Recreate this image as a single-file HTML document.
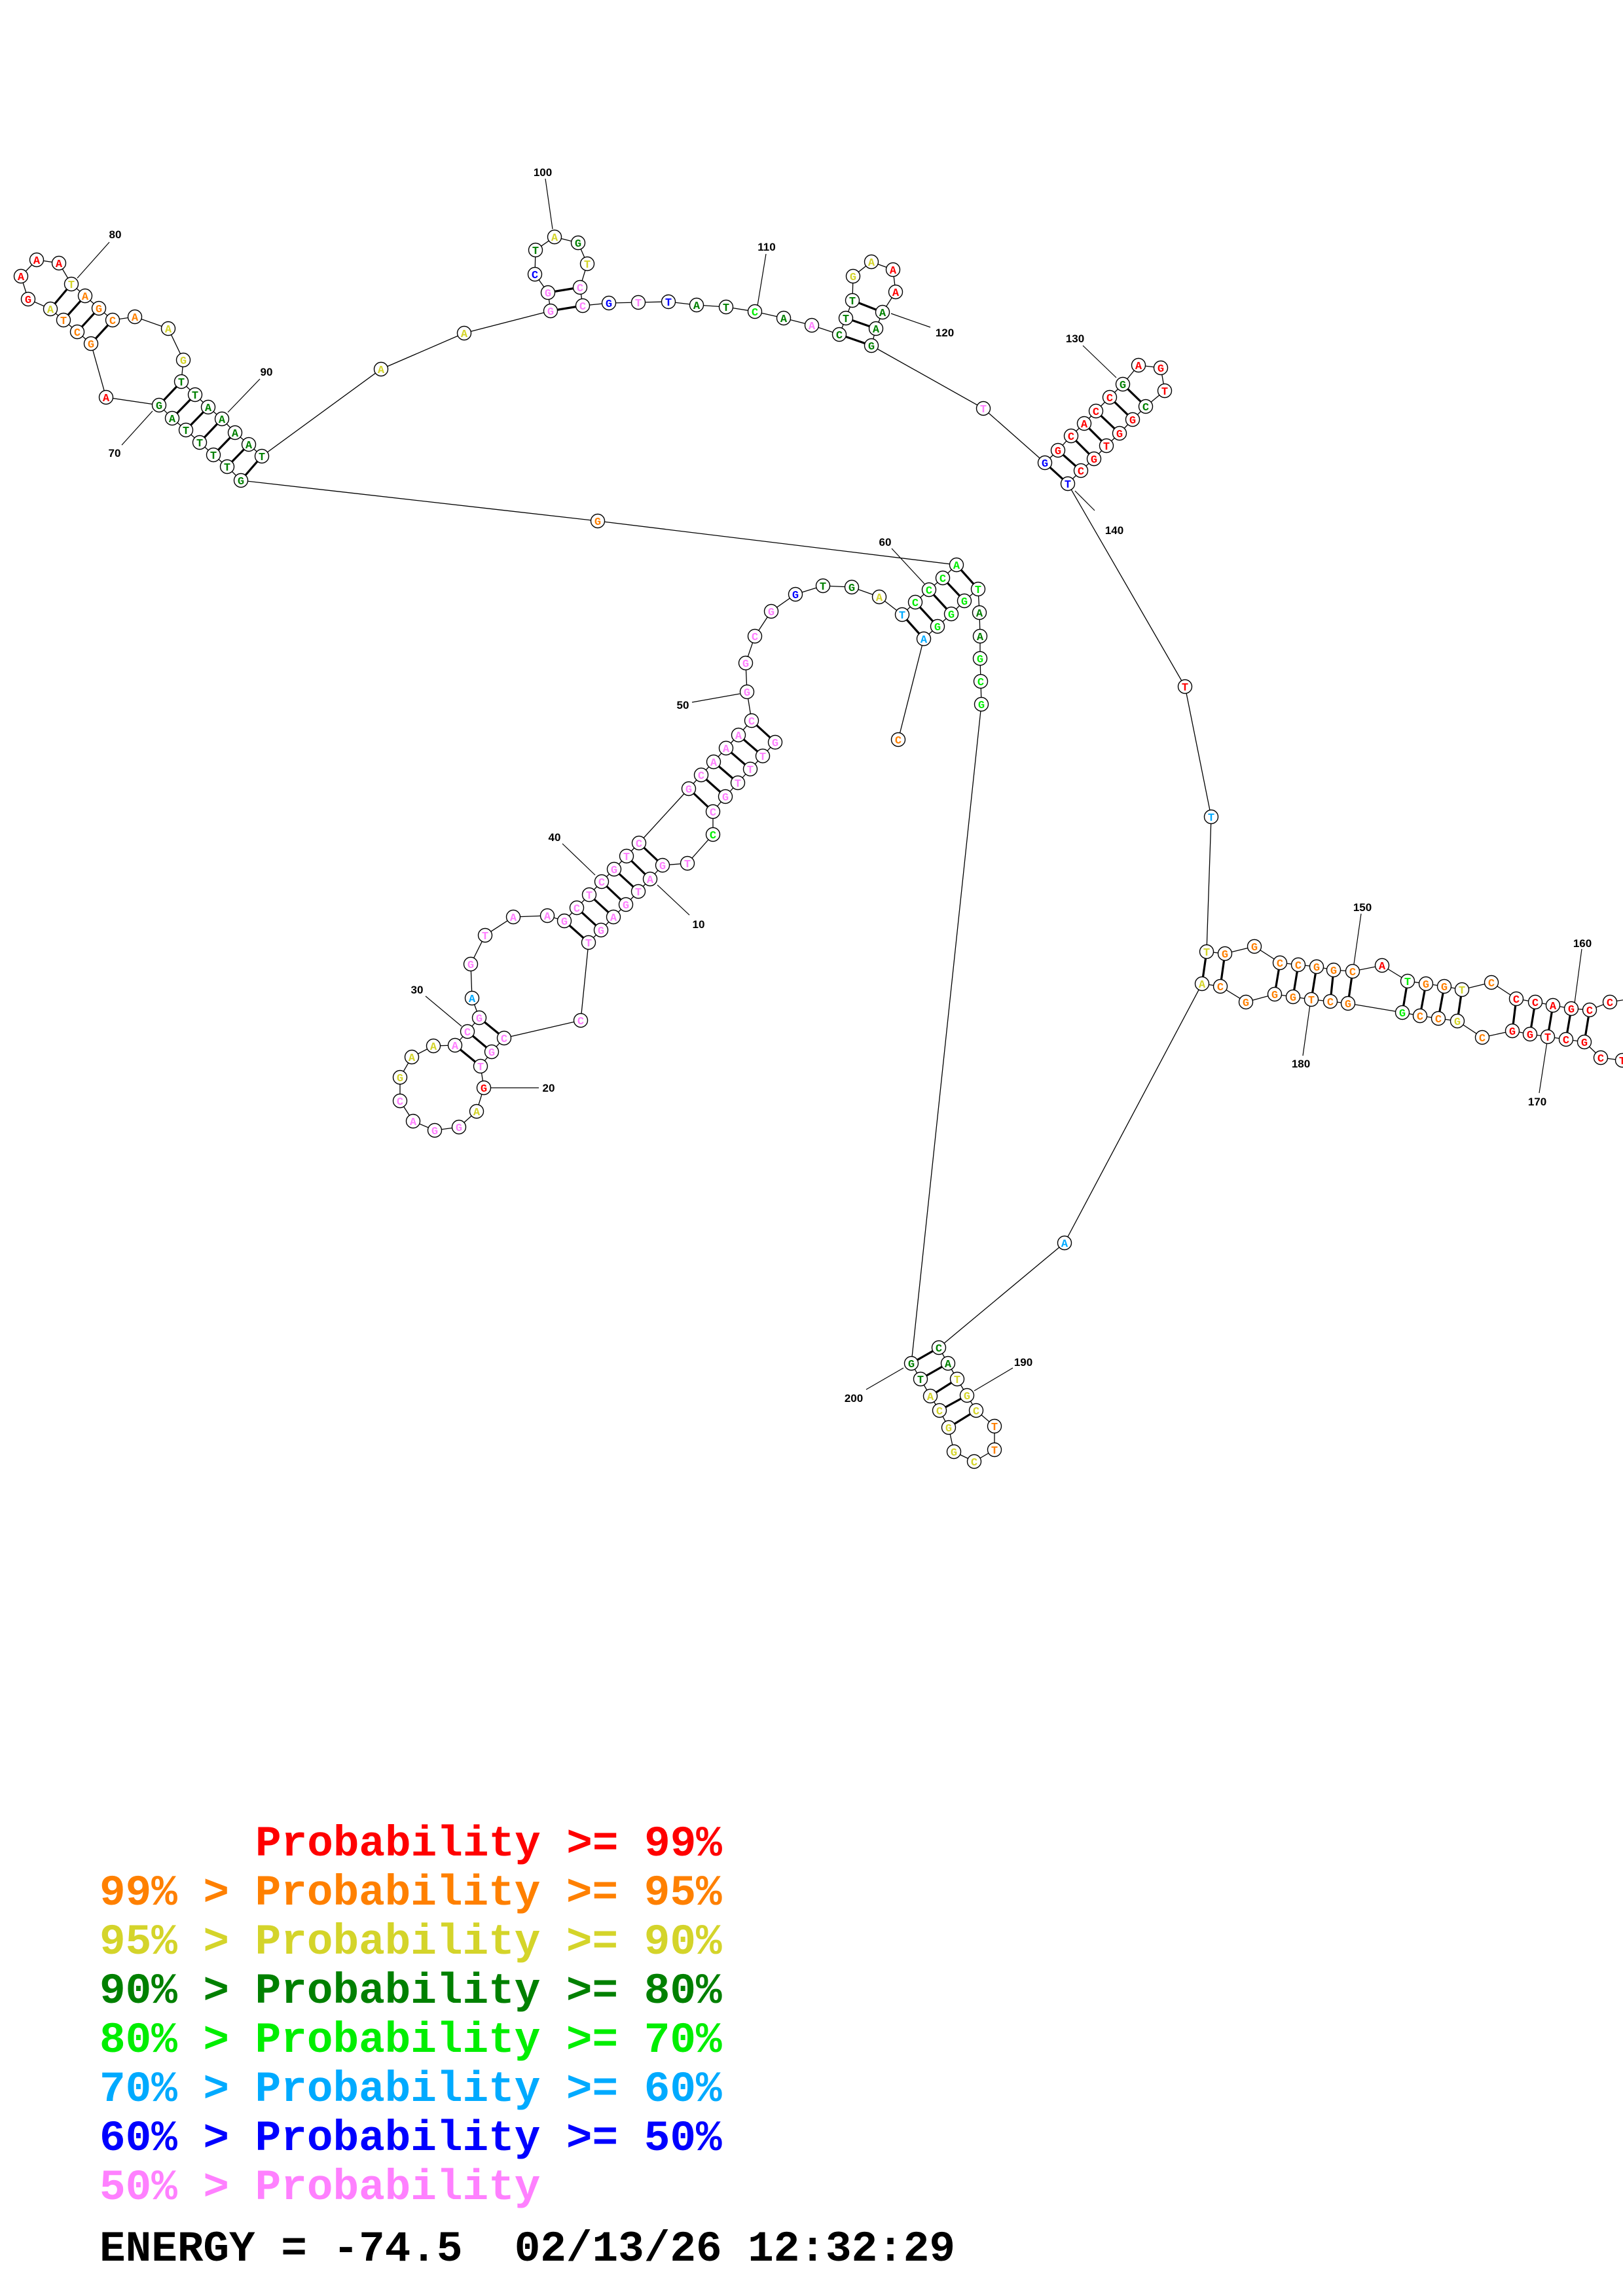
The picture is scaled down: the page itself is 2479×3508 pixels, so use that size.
<!DOCTYPE html>
<html><head><meta charset="utf-8"><style>
html,body{margin:0;padding:0;background:#fff}
svg{display:block}
.bb{fill:none;stroke:#000;stroke-width:1.3}
.pr line{stroke:#000;stroke-width:3.2}
.n circle{fill:#fff;stroke:#000;stroke-width:1.4}
.n text{font-family:"Liberation Mono",monospace;font-weight:bold;font-size:17px;text-anchor:middle}
.r{fill:#ff0000}.o{fill:#ff8000}.y{fill:#d4d42a}.d{fill:#008000}.g{fill:#00ee00}.l{fill:#00aaff}.b{fill:#0000ff}.p{fill:#ff80ff}
.lb{font-family:"Liberation Sans",sans-serif;font-weight:bold;font-size:17px;fill:#000;text-anchor:middle}
.ll{stroke:#000;stroke-width:1.2}
.lg{font-family:"Liberation Mono",monospace;font-weight:bold;font-size:66px}
</style></head><body>
<svg width="2479" height="3508" viewBox="0 0 2479 3508" xmlns="http://www.w3.org/2000/svg">
<polyline class="bb" points="1184,1134 1165,1155 1146,1175 1127,1196 1108,1217 1089,1240 1089,1275 1050,1319 1012,1322 993,1343 975,1362 956,1382 937,1401 918,1421 899,1440 887,1559 770,1586 751,1607 734,1629 739,1662 728,1698 701,1722 664,1727 631,1713 611,1682 611,1646 629,1615 662,1598 695,1597 714,1576 732,1555 721,1525 719,1473 741,1429 784,1401 836,1399 862,1407 881,1387 900,1367 919,1347 938,1328 957,1308 976,1288 1052,1205 1071,1184 1090,1164 1109,1143 1128,1123 1148,1101 1141,1057 1139,1013 1153,972 1178,934 1215,908 1257,895 1301,897 1343,912 1378,939 1398,920 1419,901 1440,883 1461,863 913,796 368,734 347,713 326,695 305,676 284,657 263,639 243,619 162,607 139,525 118,507 97,489 77,472 43,457 32,422 56,397 90,402 109,434 130,452 151,471 172,489 206,484 257,502 280,550 277,583 298,603 318,622 339,640 359,661 380,679 400,697 582,564 709,509 841,475 837,447 817,419 818,382 847,362 883,371 897,403 886,439 890,467 930,463 975,462 1021,461 1064,466 1109,469 1153,476 1197,486 1240,497 1282,511 1292,486 1302,459 1303,422 1331,400 1364,412 1368,446 1348,477 1338,502 1331,528 1502,624 1596,707 1616,688 1636,666 1656,647 1674,628 1695,607 1715,587 1739,558 1773,562 1779,597 1750,621 1730,641 1710,662 1690,681 1671,701 1651,719 1631,739 1810,1049 1850,1248 1843,1454 1871,1457 1916,1446 1955,1471 1983,1474 2011,1477 2037,1482 2066,1484 2111,1475 2150,1499 2178,1503 2206,1507 2233,1512 2278,1501 2316,1526 2345,1531 2372,1536 2400,1541 2428,1543 2459,1531 2530,1520 2530,1625 2478,1620 2445,1616 2420,1592 2392,1588 2364,1584 2337,1580 2310,1575 2264,1585 2226,1560 2197,1556 2169,1552 2142,1547 2059,1533 2032,1530 2003,1527 1975,1523 1947,1519 1903,1531 1864,1507 1836,1503 1626,1899 1434,2059 1448,2083 1462,2107 1477,2132 1491,2155 1519,2179 1519,2215 1488,2233 1457,2218 1449,2181 1435,2155 1421,2133 1406,2107 1392,2083 1499,1076 1498,1041 1497,1006 1497,972 1496,936 1494,900 1473,918 1453,938 1432,957 1411,976 1372,1130"/>
<g class="pr">
<line x1="1184" y1="1134" x2="1148" y2="1101"/><line x1="1165" y1="1155" x2="1128" y2="1123"/><line x1="1146" y1="1175" x2="1109" y2="1143"/><line x1="1127" y1="1196" x2="1090" y2="1164"/><line x1="1108" y1="1217" x2="1071" y2="1184"/><line x1="1089" y1="1240" x2="1052" y2="1205"/>
<line x1="1012" y1="1322" x2="976" y2="1288"/><line x1="993" y1="1343" x2="957" y2="1308"/><line x1="975" y1="1362" x2="938" y2="1328"/><line x1="956" y1="1382" x2="919" y2="1347"/><line x1="937" y1="1401" x2="900" y2="1367"/><line x1="918" y1="1421" x2="881" y2="1387"/><line x1="899" y1="1440" x2="862" y2="1407"/>
<line x1="770" y1="1586" x2="732" y2="1555"/><line x1="751" y1="1607" x2="714" y2="1576"/><line x1="734" y1="1629" x2="695" y2="1597"/>
<line x1="1461" y1="863" x2="1494" y2="900"/><line x1="1440" y1="883" x2="1473" y2="918"/><line x1="1419" y1="901" x2="1453" y2="938"/><line x1="1398" y1="920" x2="1432" y2="957"/><line x1="1378" y1="939" x2="1411" y2="976"/>
<line x1="368" y1="734" x2="400" y2="697"/><line x1="347" y1="713" x2="380" y2="679"/><line x1="326" y1="695" x2="359" y2="661"/><line x1="305" y1="676" x2="339" y2="640"/><line x1="284" y1="657" x2="318" y2="622"/><line x1="263" y1="639" x2="298" y2="603"/><line x1="243" y1="619" x2="277" y2="583"/>
<line x1="139" y1="525" x2="172" y2="489"/><line x1="118" y1="507" x2="151" y2="471"/><line x1="97" y1="489" x2="130" y2="452"/><line x1="77" y1="472" x2="109" y2="434"/>
<line x1="841" y1="475" x2="890" y2="467"/><line x1="837" y1="447" x2="886" y2="439"/>
<line x1="1282" y1="511" x2="1331" y2="528"/><line x1="1292" y1="486" x2="1338" y2="502"/><line x1="1302" y1="459" x2="1348" y2="477"/>
<line x1="1596" y1="707" x2="1631" y2="739"/><line x1="1616" y1="688" x2="1651" y2="719"/><line x1="1636" y1="666" x2="1671" y2="701"/><line x1="1656" y1="647" x2="1690" y2="681"/><line x1="1674" y1="628" x2="1710" y2="662"/><line x1="1695" y1="607" x2="1730" y2="641"/><line x1="1715" y1="587" x2="1750" y2="621"/>
<line x1="1843" y1="1454" x2="1836" y2="1503"/><line x1="1871" y1="1457" x2="1864" y2="1507"/><line x1="1955" y1="1471" x2="1947" y2="1519"/><line x1="1983" y1="1474" x2="1975" y2="1523"/><line x1="2011" y1="1477" x2="2003" y2="1527"/><line x1="2037" y1="1482" x2="2032" y2="1530"/><line x1="2066" y1="1484" x2="2059" y2="1533"/>
<line x1="2150" y1="1499" x2="2142" y2="1547"/><line x1="2178" y1="1503" x2="2169" y2="1552"/><line x1="2206" y1="1507" x2="2197" y2="1556"/><line x1="2233" y1="1512" x2="2226" y2="1560"/>
<line x1="2316" y1="1526" x2="2310" y2="1575"/><line x1="2345" y1="1531" x2="2337" y2="1580"/><line x1="2372" y1="1536" x2="2364" y2="1584"/><line x1="2400" y1="1541" x2="2392" y2="1588"/><line x1="2428" y1="1543" x2="2420" y2="1592"/>
<line x1="1434" y1="2059" x2="1392" y2="2083"/><line x1="1448" y1="2083" x2="1406" y2="2107"/><line x1="1462" y1="2107" x2="1421" y2="2133"/><line x1="1477" y1="2132" x2="1435" y2="2155"/><line x1="1491" y1="2155" x2="1449" y2="2181"/>
</g>
<g>
<line class="ll" x1="1057" y1="1073" x2="1130" y2="1060"/><text class="lb" x="1043" y="1083">50</text>
<line class="ll" x1="859" y1="1289" x2="909" y2="1337"/><text class="lb" x="847" y="1285">40</text>
<line class="ll" x1="1053" y1="1398" x2="1004" y2="1352"/><text class="lb" x="1067" y="1418">10</text>
<line class="ll" x1="650" y1="1522" x2="705" y2="1568"/><text class="lb" x="637" y="1518">30</text>
<line class="ll" x1="749" y1="1662" x2="823" y2="1662"/><text class="lb" x="838" y="1668">20</text>
<line class="ll" x1="1362" y1="838" x2="1412" y2="892"/><text class="lb" x="1352" y="834">60</text>
<line class="ll" x1="167" y1="370" x2="118" y2="425"/><text class="lb" x="176" y="364">80</text>
<line class="ll" x1="397" y1="579" x2="348" y2="630"/><text class="lb" x="407" y="574">90</text>
<line class="ll" x1="186" y1="680" x2="233" y2="628"/><text class="lb" x="175" y="698">70</text>
<line class="ll" x1="833" y1="273" x2="844" y2="350"/><text class="lb" x="829" y="269">100</text>
<line class="ll" x1="1170" y1="388" x2="1157" y2="467"/><text class="lb" x="1171" y="383">110</text>
<line class="ll" x1="1361" y1="479" x2="1421" y2="500"/><text class="lb" x="1443" y="514">120</text>
<line class="ll" x1="1654" y1="528" x2="1705" y2="577"/><text class="lb" x="1642" y="523">130</text>
<line class="ll" x1="1642" y1="750" x2="1672" y2="780"/><text class="lb" x="1702" y="816">140</text>
<line class="ll" x1="2079" y1="1396" x2="2068" y2="1473"/><text class="lb" x="2081" y="1392">150</text>
<line class="ll" x1="2416" y1="1450" x2="2405" y2="1533"/><text class="lb" x="2417" y="1447">160</text>
<line class="ll" x1="2363" y1="1592" x2="2351" y2="1670"/><text class="lb" x="2348" y="1689">170</text>
<line class="ll" x1="2001" y1="1535" x2="1990" y2="1613"/><text class="lb" x="1987" y="1631">180</text>
<line class="ll" x1="1547" y1="2090" x2="1488" y2="2125"/><text class="lb" x="1563" y="2087">190</text>
<line class="ll" x1="1323" y1="2123" x2="1380" y2="2090"/><text class="lb" x="1304" y="2142">200</text>
</g>
<g class="n">
<circle cx="1184" cy="1134" r="10.5"/><text x="1184" y="1140" class="p">G</text>
<circle cx="1165" cy="1155" r="10.5"/><text x="1165" y="1161" class="p">T</text>
<circle cx="1146" cy="1175" r="10.5"/><text x="1146" y="1181" class="p">T</text>
<circle cx="1127" cy="1196" r="10.5"/><text x="1127" y="1202" class="p">T</text>
<circle cx="1108" cy="1217" r="10.5"/><text x="1108" y="1223" class="p">G</text>
<circle cx="1089" cy="1240" r="10.5"/><text x="1089" y="1246" class="p">C</text>
<circle cx="1089" cy="1275" r="10.5"/><text x="1089" y="1281" class="g">C</text>
<circle cx="1050" cy="1319" r="10.5"/><text x="1050" y="1325" class="p">T</text>
<circle cx="1012" cy="1322" r="10.5"/><text x="1012" y="1328" class="p">G</text>
<circle cx="993" cy="1343" r="10.5"/><text x="993" y="1349" class="p">A</text>
<circle cx="975" cy="1362" r="10.5"/><text x="975" y="1368" class="p">T</text>
<circle cx="956" cy="1382" r="10.5"/><text x="956" y="1388" class="p">G</text>
<circle cx="937" cy="1401" r="10.5"/><text x="937" y="1407" class="p">A</text>
<circle cx="918" cy="1421" r="10.5"/><text x="918" y="1427" class="p">G</text>
<circle cx="899" cy="1440" r="10.5"/><text x="899" y="1446" class="p">T</text>
<circle cx="887" cy="1559" r="10.5"/><text x="887" y="1565" class="p">C</text>
<circle cx="770" cy="1586" r="10.5"/><text x="770" y="1592" class="p">C</text>
<circle cx="751" cy="1607" r="10.5"/><text x="751" y="1613" class="p">G</text>
<circle cx="734" cy="1629" r="10.5"/><text x="734" y="1635" class="p">T</text>
<circle cx="739" cy="1662" r="10.5"/><text x="739" y="1668" class="r">G</text>
<circle cx="728" cy="1698" r="10.5"/><text x="728" y="1704" class="y">A</text>
<circle cx="701" cy="1722" r="10.5"/><text x="701" y="1728" class="p">G</text>
<circle cx="664" cy="1727" r="10.5"/><text x="664" y="1733" class="p">G</text>
<circle cx="631" cy="1713" r="10.5"/><text x="631" y="1719" class="p">A</text>
<circle cx="611" cy="1682" r="10.5"/><text x="611" y="1688" class="p">C</text>
<circle cx="611" cy="1646" r="10.5"/><text x="611" y="1652" class="y">G</text>
<circle cx="629" cy="1615" r="10.5"/><text x="629" y="1621" class="y">A</text>
<circle cx="662" cy="1598" r="10.5"/><text x="662" y="1604" class="y">A</text>
<circle cx="695" cy="1597" r="10.5"/><text x="695" y="1603" class="p">A</text>
<circle cx="714" cy="1576" r="10.5"/><text x="714" y="1582" class="p">C</text>
<circle cx="732" cy="1555" r="10.5"/><text x="732" y="1561" class="p">G</text>
<circle cx="721" cy="1525" r="10.5"/><text x="721" y="1531" class="l">A</text>
<circle cx="719" cy="1473" r="10.5"/><text x="719" y="1479" class="p">G</text>
<circle cx="741" cy="1429" r="10.5"/><text x="741" y="1435" class="p">T</text>
<circle cx="784" cy="1401" r="10.5"/><text x="784" y="1407" class="p">A</text>
<circle cx="836" cy="1399" r="10.5"/><text x="836" y="1405" class="p">A</text>
<circle cx="862" cy="1407" r="10.5"/><text x="862" y="1413" class="p">G</text>
<circle cx="881" cy="1387" r="10.5"/><text x="881" y="1393" class="p">C</text>
<circle cx="900" cy="1367" r="10.5"/><text x="900" y="1373" class="p">T</text>
<circle cx="919" cy="1347" r="10.5"/><text x="919" y="1353" class="p">C</text>
<circle cx="938" cy="1328" r="10.5"/><text x="938" y="1334" class="p">G</text>
<circle cx="957" cy="1308" r="10.5"/><text x="957" y="1314" class="p">T</text>
<circle cx="976" cy="1288" r="10.5"/><text x="976" y="1294" class="p">C</text>
<circle cx="1052" cy="1205" r="10.5"/><text x="1052" y="1211" class="p">G</text>
<circle cx="1071" cy="1184" r="10.5"/><text x="1071" y="1190" class="p">C</text>
<circle cx="1090" cy="1164" r="10.5"/><text x="1090" y="1170" class="p">A</text>
<circle cx="1109" cy="1143" r="10.5"/><text x="1109" y="1149" class="p">A</text>
<circle cx="1128" cy="1123" r="10.5"/><text x="1128" y="1129" class="p">A</text>
<circle cx="1148" cy="1101" r="10.5"/><text x="1148" y="1107" class="p">C</text>
<circle cx="1141" cy="1057" r="10.5"/><text x="1141" y="1063" class="p">G</text>
<circle cx="1139" cy="1013" r="10.5"/><text x="1139" y="1019" class="p">G</text>
<circle cx="1153" cy="972" r="10.5"/><text x="1153" y="978" class="p">C</text>
<circle cx="1178" cy="934" r="10.5"/><text x="1178" y="940" class="p">G</text>
<circle cx="1215" cy="908" r="10.5"/><text x="1215" y="914" class="b">G</text>
<circle cx="1257" cy="895" r="10.5"/><text x="1257" y="901" class="d">T</text>
<circle cx="1301" cy="897" r="10.5"/><text x="1301" y="903" class="d">G</text>
<circle cx="1343" cy="912" r="10.5"/><text x="1343" y="918" class="y">A</text>
<circle cx="1378" cy="939" r="10.5"/><text x="1378" y="945" class="l">T</text>
<circle cx="1398" cy="920" r="10.5"/><text x="1398" y="926" class="g">C</text>
<circle cx="1419" cy="901" r="10.5"/><text x="1419" y="907" class="g">C</text>
<circle cx="1440" cy="883" r="10.5"/><text x="1440" y="889" class="g">C</text>
<circle cx="1461" cy="863" r="10.5"/><text x="1461" y="869" class="g">A</text>
<circle cx="913" cy="796" r="10.5"/><text x="913" y="802" class="o">G</text>
<circle cx="368" cy="734" r="10.5"/><text x="368" y="740" class="d">G</text>
<circle cx="347" cy="713" r="10.5"/><text x="347" y="719" class="d">T</text>
<circle cx="326" cy="695" r="10.5"/><text x="326" y="701" class="d">T</text>
<circle cx="305" cy="676" r="10.5"/><text x="305" y="682" class="d">T</text>
<circle cx="284" cy="657" r="10.5"/><text x="284" y="663" class="d">T</text>
<circle cx="263" cy="639" r="10.5"/><text x="263" y="645" class="d">A</text>
<circle cx="243" cy="619" r="10.5"/><text x="243" y="625" class="d">G</text>
<circle cx="162" cy="607" r="10.5"/><text x="162" y="613" class="r">A</text>
<circle cx="139" cy="525" r="10.5"/><text x="139" y="531" class="o">G</text>
<circle cx="118" cy="507" r="10.5"/><text x="118" y="513" class="o">C</text>
<circle cx="97" cy="489" r="10.5"/><text x="97" y="495" class="o">T</text>
<circle cx="77" cy="472" r="10.5"/><text x="77" y="478" class="y">A</text>
<circle cx="43" cy="457" r="10.5"/><text x="43" y="463" class="r">G</text>
<circle cx="32" cy="422" r="10.5"/><text x="32" y="428" class="r">A</text>
<circle cx="56" cy="397" r="10.5"/><text x="56" y="403" class="r">A</text>
<circle cx="90" cy="402" r="10.5"/><text x="90" y="408" class="r">A</text>
<circle cx="109" cy="434" r="10.5"/><text x="109" y="440" class="y">T</text>
<circle cx="130" cy="452" r="10.5"/><text x="130" y="458" class="o">A</text>
<circle cx="151" cy="471" r="10.5"/><text x="151" y="477" class="o">G</text>
<circle cx="172" cy="489" r="10.5"/><text x="172" y="495" class="o">C</text>
<circle cx="206" cy="484" r="10.5"/><text x="206" y="490" class="o">A</text>
<circle cx="257" cy="502" r="10.5"/><text x="257" y="508" class="y">A</text>
<circle cx="280" cy="550" r="10.5"/><text x="280" y="556" class="y">G</text>
<circle cx="277" cy="583" r="10.5"/><text x="277" y="589" class="d">T</text>
<circle cx="298" cy="603" r="10.5"/><text x="298" y="609" class="d">T</text>
<circle cx="318" cy="622" r="10.5"/><text x="318" y="628" class="d">A</text>
<circle cx="339" cy="640" r="10.5"/><text x="339" y="646" class="d">A</text>
<circle cx="359" cy="661" r="10.5"/><text x="359" y="667" class="d">A</text>
<circle cx="380" cy="679" r="10.5"/><text x="380" y="685" class="d">A</text>
<circle cx="400" cy="697" r="10.5"/><text x="400" y="703" class="d">T</text>
<circle cx="582" cy="564" r="10.5"/><text x="582" y="570" class="y">A</text>
<circle cx="709" cy="509" r="10.5"/><text x="709" y="515" class="y">A</text>
<circle cx="841" cy="475" r="10.5"/><text x="841" y="481" class="p">G</text>
<circle cx="837" cy="447" r="10.5"/><text x="837" y="453" class="p">G</text>
<circle cx="817" cy="419" r="10.5"/><text x="817" y="425" class="b">C</text>
<circle cx="818" cy="382" r="10.5"/><text x="818" y="388" class="d">T</text>
<circle cx="847" cy="362" r="10.5"/><text x="847" y="368" class="y">A</text>
<circle cx="883" cy="371" r="10.5"/><text x="883" y="377" class="d">G</text>
<circle cx="897" cy="403" r="10.5"/><text x="897" y="409" class="y">T</text>
<circle cx="886" cy="439" r="10.5"/><text x="886" y="445" class="p">C</text>
<circle cx="890" cy="467" r="10.5"/><text x="890" y="473" class="p">C</text>
<circle cx="930" cy="463" r="10.5"/><text x="930" y="469" class="b">G</text>
<circle cx="975" cy="462" r="10.5"/><text x="975" y="468" class="p">T</text>
<circle cx="1021" cy="461" r="10.5"/><text x="1021" y="467" class="b">T</text>
<circle cx="1064" cy="466" r="10.5"/><text x="1064" y="472" class="d">A</text>
<circle cx="1109" cy="469" r="10.5"/><text x="1109" y="475" class="d">T</text>
<circle cx="1153" cy="476" r="10.5"/><text x="1153" y="482" class="g">C</text>
<circle cx="1197" cy="486" r="10.5"/><text x="1197" y="492" class="d">A</text>
<circle cx="1240" cy="497" r="10.5"/><text x="1240" y="503" class="p">A</text>
<circle cx="1282" cy="511" r="10.5"/><text x="1282" y="517" class="d">C</text>
<circle cx="1292" cy="486" r="10.5"/><text x="1292" y="492" class="d">T</text>
<circle cx="1302" cy="459" r="10.5"/><text x="1302" y="465" class="d">T</text>
<circle cx="1303" cy="422" r="10.5"/><text x="1303" y="428" class="y">G</text>
<circle cx="1331" cy="400" r="10.5"/><text x="1331" y="406" class="y">A</text>
<circle cx="1364" cy="412" r="10.5"/><text x="1364" y="418" class="r">A</text>
<circle cx="1368" cy="446" r="10.5"/><text x="1368" y="452" class="r">A</text>
<circle cx="1348" cy="477" r="10.5"/><text x="1348" y="483" class="d">A</text>
<circle cx="1338" cy="502" r="10.5"/><text x="1338" y="508" class="d">A</text>
<circle cx="1331" cy="528" r="10.5"/><text x="1331" y="534" class="d">G</text>
<circle cx="1502" cy="624" r="10.5"/><text x="1502" y="630" class="p">T</text>
<circle cx="1596" cy="707" r="10.5"/><text x="1596" y="713" class="b">G</text>
<circle cx="1616" cy="688" r="10.5"/><text x="1616" y="694" class="r">G</text>
<circle cx="1636" cy="666" r="10.5"/><text x="1636" y="672" class="r">C</text>
<circle cx="1656" cy="647" r="10.5"/><text x="1656" y="653" class="r">A</text>
<circle cx="1674" cy="628" r="10.5"/><text x="1674" y="634" class="r">C</text>
<circle cx="1695" cy="607" r="10.5"/><text x="1695" y="613" class="r">C</text>
<circle cx="1715" cy="587" r="10.5"/><text x="1715" y="593" class="d">G</text>
<circle cx="1739" cy="558" r="10.5"/><text x="1739" y="564" class="r">A</text>
<circle cx="1773" cy="562" r="10.5"/><text x="1773" y="568" class="r">G</text>
<circle cx="1779" cy="597" r="10.5"/><text x="1779" y="603" class="r">T</text>
<circle cx="1750" cy="621" r="10.5"/><text x="1750" y="627" class="d">C</text>
<circle cx="1730" cy="641" r="10.5"/><text x="1730" y="647" class="r">G</text>
<circle cx="1710" cy="662" r="10.5"/><text x="1710" y="668" class="r">G</text>
<circle cx="1690" cy="681" r="10.5"/><text x="1690" y="687" class="r">T</text>
<circle cx="1671" cy="701" r="10.5"/><text x="1671" y="707" class="r">G</text>
<circle cx="1651" cy="719" r="10.5"/><text x="1651" y="725" class="r">C</text>
<circle cx="1631" cy="739" r="10.5"/><text x="1631" y="745" class="b">T</text>
<circle cx="1810" cy="1049" r="10.5"/><text x="1810" y="1055" class="r">T</text>
<circle cx="1850" cy="1248" r="10.5"/><text x="1850" y="1254" class="l">T</text>
<circle cx="1843" cy="1454" r="10.5"/><text x="1843" y="1460" class="y">T</text>
<circle cx="1871" cy="1457" r="10.5"/><text x="1871" y="1463" class="o">G</text>
<circle cx="1916" cy="1446" r="10.5"/><text x="1916" y="1452" class="o">G</text>
<circle cx="1955" cy="1471" r="10.5"/><text x="1955" y="1477" class="o">C</text>
<circle cx="1983" cy="1474" r="10.5"/><text x="1983" y="1480" class="o">C</text>
<circle cx="2011" cy="1477" r="10.5"/><text x="2011" y="1483" class="o">G</text>
<circle cx="2037" cy="1482" r="10.5"/><text x="2037" y="1488" class="o">G</text>
<circle cx="2066" cy="1484" r="10.5"/><text x="2066" y="1490" class="o">C</text>
<circle cx="2111" cy="1475" r="10.5"/><text x="2111" y="1481" class="r">A</text>
<circle cx="2150" cy="1499" r="10.5"/><text x="2150" y="1505" class="g">T</text>
<circle cx="2178" cy="1503" r="10.5"/><text x="2178" y="1509" class="o">G</text>
<circle cx="2206" cy="1507" r="10.5"/><text x="2206" y="1513" class="o">G</text>
<circle cx="2233" cy="1512" r="10.5"/><text x="2233" y="1518" class="y">T</text>
<circle cx="2278" cy="1501" r="10.5"/><text x="2278" y="1507" class="o">C</text>
<circle cx="2316" cy="1526" r="10.5"/><text x="2316" y="1532" class="r">C</text>
<circle cx="2345" cy="1531" r="10.5"/><text x="2345" y="1537" class="r">C</text>
<circle cx="2372" cy="1536" r="10.5"/><text x="2372" y="1542" class="r">A</text>
<circle cx="2400" cy="1541" r="10.5"/><text x="2400" y="1547" class="r">G</text>
<circle cx="2428" cy="1543" r="10.5"/><text x="2428" y="1549" class="r">C</text>
<circle cx="2459" cy="1531" r="10.5"/><text x="2459" y="1537" class="r">C</text>
<circle cx="2478" cy="1620" r="10.5"/><text x="2478" y="1626" class="r">T</text>
<circle cx="2445" cy="1616" r="10.5"/><text x="2445" y="1622" class="r">C</text>
<circle cx="2420" cy="1592" r="10.5"/><text x="2420" y="1598" class="r">G</text>
<circle cx="2392" cy="1588" r="10.5"/><text x="2392" y="1594" class="r">C</text>
<circle cx="2364" cy="1584" r="10.5"/><text x="2364" y="1590" class="r">T</text>
<circle cx="2337" cy="1580" r="10.5"/><text x="2337" y="1586" class="r">G</text>
<circle cx="2310" cy="1575" r="10.5"/><text x="2310" y="1581" class="r">G</text>
<circle cx="2264" cy="1585" r="10.5"/><text x="2264" y="1591" class="o">C</text>
<circle cx="2226" cy="1560" r="10.5"/><text x="2226" y="1566" class="y">G</text>
<circle cx="2197" cy="1556" r="10.5"/><text x="2197" y="1562" class="o">C</text>
<circle cx="2169" cy="1552" r="10.5"/><text x="2169" y="1558" class="o">C</text>
<circle cx="2142" cy="1547" r="10.5"/><text x="2142" y="1553" class="g">G</text>
<circle cx="2059" cy="1533" r="10.5"/><text x="2059" y="1539" class="o">G</text>
<circle cx="2032" cy="1530" r="10.5"/><text x="2032" y="1536" class="o">C</text>
<circle cx="2003" cy="1527" r="10.5"/><text x="2003" y="1533" class="o">T</text>
<circle cx="1975" cy="1523" r="10.5"/><text x="1975" y="1529" class="o">G</text>
<circle cx="1947" cy="1519" r="10.5"/><text x="1947" y="1525" class="o">G</text>
<circle cx="1903" cy="1531" r="10.5"/><text x="1903" y="1537" class="o">G</text>
<circle cx="1864" cy="1507" r="10.5"/><text x="1864" y="1513" class="o">C</text>
<circle cx="1836" cy="1503" r="10.5"/><text x="1836" y="1509" class="y">A</text>
<circle cx="1626" cy="1899" r="10.5"/><text x="1626" y="1905" class="l">A</text>
<circle cx="1434" cy="2059" r="10.5"/><text x="1434" y="2065" class="d">C</text>
<circle cx="1448" cy="2083" r="10.5"/><text x="1448" y="2089" class="d">A</text>
<circle cx="1462" cy="2107" r="10.5"/><text x="1462" y="2113" class="y">T</text>
<circle cx="1477" cy="2132" r="10.5"/><text x="1477" y="2138" class="y">G</text>
<circle cx="1491" cy="2155" r="10.5"/><text x="1491" y="2161" class="y">C</text>
<circle cx="1519" cy="2179" r="10.5"/><text x="1519" y="2185" class="o">T</text>
<circle cx="1519" cy="2215" r="10.5"/><text x="1519" y="2221" class="o">T</text>
<circle cx="1488" cy="2233" r="10.5"/><text x="1488" y="2239" class="y">C</text>
<circle cx="1457" cy="2218" r="10.5"/><text x="1457" y="2224" class="y">G</text>
<circle cx="1449" cy="2181" r="10.5"/><text x="1449" y="2187" class="y">G</text>
<circle cx="1435" cy="2155" r="10.5"/><text x="1435" y="2161" class="y">C</text>
<circle cx="1421" cy="2133" r="10.5"/><text x="1421" y="2139" class="y">A</text>
<circle cx="1406" cy="2107" r="10.5"/><text x="1406" y="2113" class="d">T</text>
<circle cx="1392" cy="2083" r="10.5"/><text x="1392" y="2089" class="d">G</text>
<circle cx="1499" cy="1076" r="10.5"/><text x="1499" y="1082" class="g">G</text>
<circle cx="1498" cy="1041" r="10.5"/><text x="1498" y="1047" class="g">C</text>
<circle cx="1497" cy="1006" r="10.5"/><text x="1497" y="1012" class="g">G</text>
<circle cx="1497" cy="972" r="10.5"/><text x="1497" y="978" class="d">A</text>
<circle cx="1496" cy="936" r="10.5"/><text x="1496" y="942" class="d">A</text>
<circle cx="1494" cy="900" r="10.5"/><text x="1494" y="906" class="g">T</text>
<circle cx="1473" cy="918" r="10.5"/><text x="1473" y="924" class="g">G</text>
<circle cx="1453" cy="938" r="10.5"/><text x="1453" y="944" class="g">G</text>
<circle cx="1432" cy="957" r="10.5"/><text x="1432" y="963" class="g">G</text>
<circle cx="1411" cy="976" r="10.5"/><text x="1411" y="982" class="l">A</text>
<circle cx="1372" cy="1130" r="10.5"/><text x="1372" y="1136" class="o">C</text>
</g>
<g class="lg">
<text x="390" y="2835" class="r">Probability &gt;= 99%</text>
<text x="152" y="2910" class="o">99% &gt; Probability &gt;= 95%</text>
<text x="152" y="2985" class="y">95% &gt; Probability &gt;= 90%</text>
<text x="152" y="3060" class="d">90% &gt; Probability &gt;= 80%</text>
<text x="152" y="3135" class="g">80% &gt; Probability &gt;= 70%</text>
<text x="152" y="3210" class="l">70% &gt; Probability &gt;= 60%</text>
<text x="152" y="3285" class="b">60% &gt; Probability &gt;= 50%</text>
<text x="152" y="3360" class="p">50% &gt; Probability</text>
<text x="152" y="3454" fill="#000" xml:space="preserve">ENERGY = -74.5  02/13/26 12:32:29</text>
</g>
</svg>
</body></html>
